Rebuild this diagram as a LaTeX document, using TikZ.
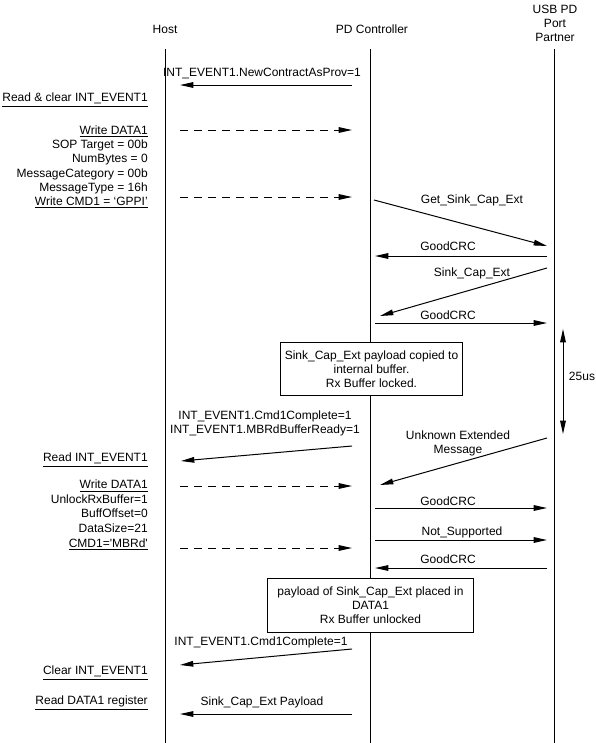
\documentclass[tikz,border=0pt]{standalone}
\usepackage{fontspec}
\setmainfont{Liberation Sans}
\usetikzlibrary{arrows.meta}
\begin{document}
\begin{tikzpicture}[x=0.75pt,y=-0.75pt,
 every node/.style={font=\fontsize{9}{10.5}\selectfont, inner sep=0pt},
 msg/.style={line width=0.75pt, -{Triangle[length=10pt,width=4.2pt]}},
 cmd/.style={msg, dash pattern=on 6pt off 4.5pt},
 life/.style={line width=0.75pt},
 hostnote/.style={align=right, anchor=east},
 notebox/.style={draw, fill=white, line width=0.75pt, align=center}]
\path[use as bounding box] (0,0) rectangle (596,743);
% headers and lifelines
\node (host) at (165,29) {Host};
\node (pdc) at (372,29) {PD Controller};
\node[align=center] (usb) at (555,23) {USB PD\\Port\\Partner};
\coordinate (hostT) at (165,49); \coordinate (hostB) at (165,743);
\coordinate (pdT) at (370,49); \coordinate (pdB) at (370,743);
\coordinate (usbT) at (554,49); \coordinate (usbB) at (554,743);
\draw[life] (hostT) -- (hostB);
\draw[life] (pdT) -- (pdB);
\draw[life] (usbT) -- (usbB);
% 1
\node (l1) at (262,73) {INT\_EVENT1.NewContractAsProv=1};
\coordinate (a1s) at (352,85); \coordinate (a1e) at (180,85);
\draw[msg] (a1s) -- (a1e);
\node[hostnote] (n1) at (148,100) {\underline{Read \& clear INT\_EVENT1}};
% write data1
\node[hostnote,font=\fontsize{9}{10.7}\selectfont] (n2) at (148,167) {\underline{Write DATA1}\\SOP Target = 00b\\NumBytes = 0\\MessageCategory = 00b\\MessageType = 16h\\\underline{Write CMD1 = ‘GPPI’}};
\coordinate (d1s) at (180,130); \coordinate (d1e) at (352,130);
\draw[cmd] (d1s) -- (d1e);
\coordinate (d2s) at (180,197); \coordinate (d2e) at (352,197);
\draw[cmd] (d2s) -- (d2e);
% PD <-> partner
\node (l2) at (472,200) {Get\_Sink\_Cap\_Ext};
\coordinate (b1s) at (374,200); \coordinate (b1e) at (547,246);
\draw[msg] (b1s) -- (b1e);
\node (l3) at (448,246) {GoodCRC};
\coordinate (b2s) at (547,256); \coordinate (b2e) at (375,256);
\draw[msg] (b2s) -- (b2e);
\node (l4) at (472,273) {Sink\_Cap\_Ext};
\coordinate (b3s) at (547,268); \coordinate (b3e) at (380,316);
\draw[msg] (b3s) -- (b3e);
\node (l5) at (448,315) {GoodCRC};
\coordinate (b4s) at (375,323); \coordinate (b4e) at (547,323);
\draw[msg] (b4s) -- (b4e);
% box 1
\node[notebox, minimum width=136pt, minimum height=39.5pt] (box1) at (371.5,369) {Sink\_Cap\_Ext payload copied to\\internal buffer.\\Rx Buffer locked.};
% 25us
\coordinate (t1) at (563,329); \coordinate (t2) at (563,434);
\draw[line width=0.75pt, {Triangle[length=10pt,width=4.2pt]}-{Triangle[length=10pt,width=4.2pt]}] (t1) -- (t2);
\node (l25) at (582,376) {25us};
% cmd complete
\node[align=center] (l6) at (265,423.5) {INT\_EVENT1.Cmd1Complete=1\\INT\_EVENT1.MBRdBufferReady=1};
\coordinate (a2s) at (352,446); \coordinate (a2e) at (181,461);
\draw[msg] (a2s) -- (a2e);
\node[hostnote] (n3) at (148,460) {\underline{Read INT\_EVENT1}};
\node[align=center] (l7) at (458,443) {Unknown Extended\\Message};
\coordinate (b5s) at (547,438); \coordinate (b5e) at (380,485);
\draw[msg] (b5s) -- (b5e);
% write data1 2
\node[hostnote,font=\fontsize{9}{10.9}\selectfont] (n4) at (148,515) {\underline{Write DATA1}\\UnlockRxBuffer=1\\BuffOffset=0\\DataSize=21\\\underline{CMD1=\textquotesingle MBRd\textquotesingle}};
\coordinate (d3s) at (180,486); \coordinate (d3e) at (352,486);
\draw[cmd] (d3s) -- (d3e);
\coordinate (d4s) at (180,548); \coordinate (d4e) at (352,548);
\draw[cmd] (d4s) -- (d4e);
\node (l8) at (448,501) {GoodCRC};
\coordinate (b6s) at (375,508); \coordinate (b6e) at (547,508);
\draw[msg] (b6s) -- (b6e);
\node (l9) at (462,532) {Not\_Supported};
\coordinate (b7s) at (375,540); \coordinate (b7e) at (547,540);
\draw[msg] (b7s) -- (b7e);
\node (l10) at (448,559) {GoodCRC};
\coordinate (b8s) at (547,568); \coordinate (b8e) at (375,568);
\draw[msg] (b8s) -- (b8e);
% box 2
\node[notebox, minimum width=155pt, minimum height=40.5pt] (box2) at (370.5,605) {payload of Sink\_Cap\_Ext placed in\\DATA1\\Rx Buffer unlocked};
\node (l11) at (261,642) {INT\_EVENT1.Cmd1Complete=1};
\coordinate (a3s) at (352,649); \coordinate (a3e) at (180,665);
\draw[msg] (a3s) -- (a3e);
\node[hostnote] (n5) at (148,673) {\underline{Clear INT\_EVENT1}};
\node[hostnote] (n6) at (148,703) {\underline{Read DATA1 register}};
\node (l12) at (262,702) {Sink\_Cap\_Ext Payload};
\coordinate (a4s) at (352,714); \coordinate (a4e) at (180,714);
\draw[msg] (a4s) -- (a4e);
\end{tikzpicture}
\end{document}
